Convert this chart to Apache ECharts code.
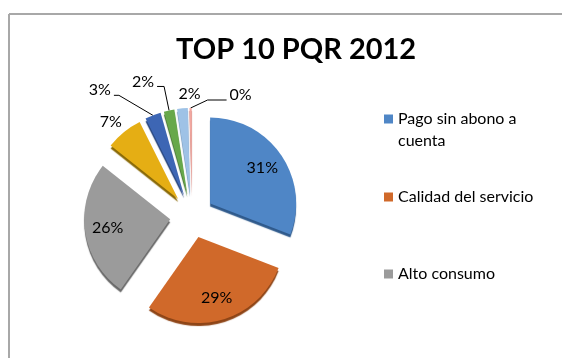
<!DOCTYPE html>
<html>
<head>
<meta charset="utf-8">
<script src="https://cdn.jsdelivr.net/npm/echarts@6/dist/echarts.min.js"></script>
<style>
  html, body { margin: 0; padding: 0; background: #fff; }
  #chart { width: 562px; height: 358px; }
</style>
</head>
<body>
<div id="chart"></div>
<script>
// PQR categories, ranked by share
const categories = [
  'Pago sin abono a cuenta',
  'Calidad del servicio',
  'Alto consumo',
  'Motivo 4',
  'Motivo 5',
  'Motivo 6',
  'Motivo 7',
  'Motivo 8'
];
// Share of each category (%)
const shares = [31, 29, 26, 7, 3, 2, 2, 0];
const sliceColors = ['#4F86C6', '#D0692A', '#9B9B9B', '#E5AE14', '#3D66B4', '#67A84A', '#9EC2E6', '#F2A7A0'];
const rimColors   = ['#2F5A8C', '#8E4517', '#6A6A6A', '#8A6A08', '#22407A', '#3F6E2A', '#6B8FB3', '#B86A62'];

const FONT = 'Lato, "Liberation Sans", sans-serif';
const CENTER = [192, 216];
const RADIUS = 86;
const EXPLODE = 22;
const insideCount = 3; // the big slices carry their label inside

// Callout routing for the thin slices, relative to the point where the
// exploded slice's outer edge meets its mid-angle: an elbow, then a short run.
const calloutRoutes = {
  3: { label: [-13, -10] },
  4: { elbow: [-34, -20], end: [-39, -20], align: 'right' },
  5: { elbow: [-5, -24], end: [-12, -24], align: 'right' },
  6: { label: [7, -15] },
  7: { elbow: [17, -8], end: [36, -8], align: 'left' }
};

const chart = echarts.init(document.getElementById('chart'), null, { renderer: 'canvas' });

const sliceData = categories.map((name, i) => ({
  name,
  value: shares[i],
  selected: true,
  itemStyle: {
    color: sliceColors[i],
    shadowColor: rimColors[i],
    shadowBlur: 1,
    shadowOffsetX: 0,
    shadowOffsetY: 3
  }
}));

const insideLabelData = categories.map((name, i) => ({
  name,
  value: shares[i],
  selected: true,
  label: { show: i < insideCount }
}));

const calloutData = categories.map((name, i) => ({
  name,
  value: shares[i],
  label: { show: i >= insideCount },
  labelLine: { show: i >= insideCount }
}));

// Push an edge point of the un-exploded pie out to the exploded slice edge.
function explodedEdge(p) {
  const vx = p[0] - CENTER[0];
  const vy = p[1] - CENTER[1];
  const len = Math.sqrt(vx * vx + vy * vy) || 1;
  const k = (len + EXPLODE) / len;
  return [CENTER[0] + vx * k, CENTER[1] + vy * k];
}

const firstLegendIcon = 'path://M0,0 M0,6.5h9v9h-9z M9,44';
const legendText = { fontFamily: FONT, fontSize: 16, color: '#000', lineHeight: 22 };
const pieBase = {
  type: 'pie',
  center: CENTER,
  radius: [0, RADIUS],
  startAngle: 90,
  clockwise: true,
  minAngle: 1.5,
  percentPrecision: 0,
  emphasis: { disabled: true }
};

chart.setOption({
  animation: false,
  title: {
    text: 'TOP 10 PQR 2012',
    left: 171,
    top: 30,
    textStyle: { fontFamily: FONT, fontWeight: 'bold', fontSize: 29, color: '#000' }
  },
  graphic: [
    { type: 'line', shape: { x1: 9, y1: 14, x2: 562, y2: 14 }, style: { stroke: '#a8a8a8', lineWidth: 2 }, silent: true },
    { type: 'line', shape: { x1: 9, y1: 14, x2: 9, y2: 358 }, style: { stroke: '#a8a8a8', lineWidth: 2 }, silent: true }
  ],
  legend: [
    {
      data: [categories[0]], left: 384, top: 108, padding: 0, orient: 'vertical',
      icon: firstLegendIcon, itemWidth: 9, itemHeight: 44,
      textStyle: Object.assign({ width: 132, overflow: 'break' }, legendText)
    },
    {
      data: [categories[1]], left: 384, top: 186, padding: 0, orient: 'vertical',
      icon: 'rect', itemWidth: 9, itemHeight: 9,
      textStyle: legendText
    },
    {
      data: [categories[2]], left: 384, top: 263, padding: 0, orient: 'vertical',
      icon: 'rect', itemWidth: 9, itemHeight: 9,
      textStyle: legendText
    }
  ],
  series: [
    Object.assign({}, pieBase, {
      // exploded slices
      selectedMode: 'multiple',
      selectedOffset: EXPLODE,
      label: { show: false },
      labelLine: { show: false },
      data: sliceData
    }),
    Object.assign({}, pieBase, {
      // percentages printed inside the big slices
      radius: [RADIUS * 0.4, RADIUS],
      selectedMode: 'multiple',
      selectedOffset: EXPLODE,
      silent: true,
      itemStyle: { color: 'rgba(0,0,0,0)' },
      label: {
        position: 'inside',
        formatter: '{d}%',
        fontFamily: FONT,
        fontSize: 16,
        color: '#000'
      },
      labelLine: { show: false },
      data: insideLabelData
    }),
    Object.assign({}, pieBase, {
      // callouts for the thin slices
      silent: true,
      avoidLabelOverlap: false,
      itemStyle: { color: 'rgba(0,0,0,0)' },
      label: {
        position: 'outside',
        formatter: '{d}%',
        fontFamily: FONT,
        fontSize: 16,
        color: '#000'
      },
      labelLine: {
        length: 14,
        length2: 8,
        lineStyle: { color: '#000', width: 1 }
      },
      labelLayout(params) {
        const route = calloutRoutes[params.dataIndex];
        const pts = params.labelLinePoints;
        if (!route || !pts) return {};
        const p0 = explodedEdge(pts[0]);
        if (route.label) {
          return {
            x: p0[0] + route.label[0],
            y: p0[1] + route.label[1],
            align: 'center',
            verticalAlign: 'middle',
            labelLinePoints: [p0, p0, p0]
          };
        }
        const p1 = [p0[0] + route.elbow[0], p0[1] + route.elbow[1]];
        const p2 = [p0[0] + route.end[0], p0[1] + route.end[1]];
        return {
          x: p2[0] + (route.align === 'left' ? 3 : -3),
          y: p2[1] - 5,
          align: route.align,
          verticalAlign: 'middle',
          labelLinePoints: [p0, p1, p2]
        };
      },
      data: calloutData
    })
  ]
});
</script>
</body>
</html>
